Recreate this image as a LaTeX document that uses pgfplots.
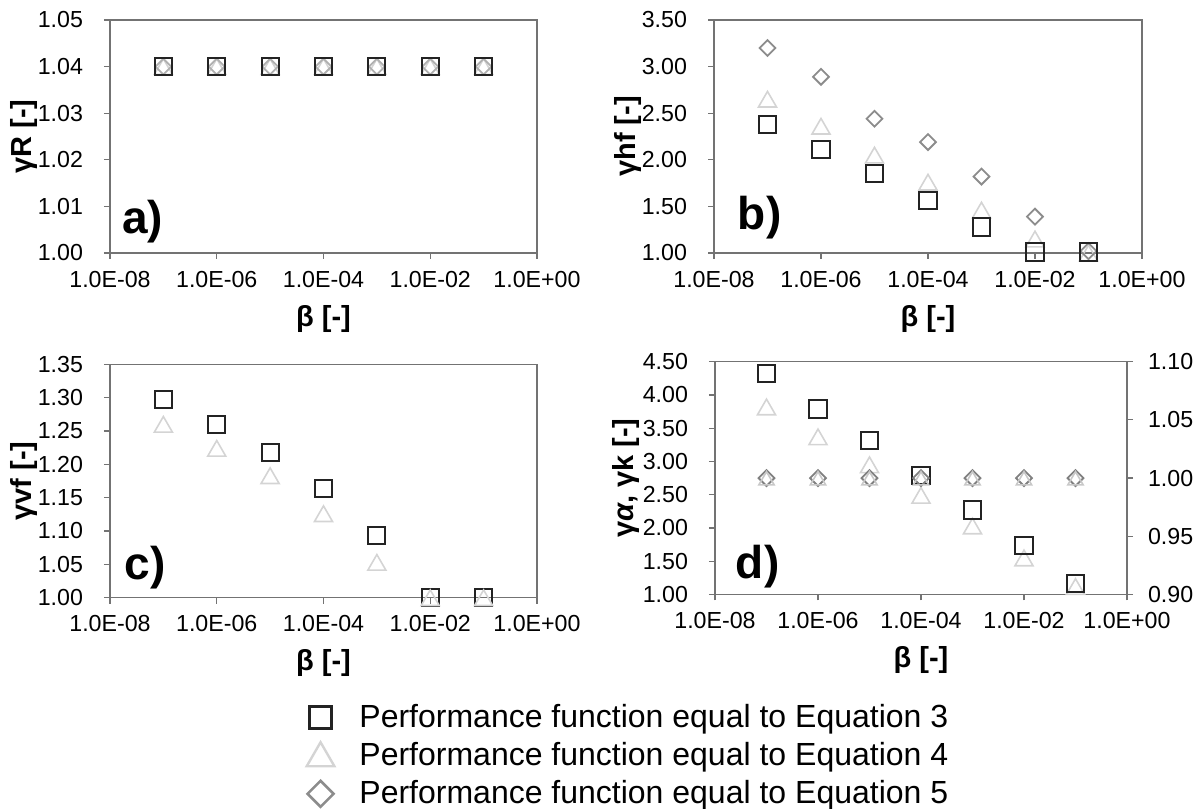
\documentclass[border=0pt]{standalone}
\usepackage{fontspec}
\setmainfont{Liberation Sans}
\usepackage{pgfplots}
\pgfplotsset{compat=1.18}

\definecolor{sqcol}{RGB}{35,35,35}
\definecolor{tricol}{RGB}{212,212,212}
\definecolor{diacol}{RGB}{140,140,140}
\definecolor{trifill}{RGB}{200,200,200}
\definecolor{framecol}{RGB}{115,115,115}

\pgfplotsset{
  myax/.style={
    scale only axis, width=213.5pt, height=116.5pt,
    xmin=1e-8, xmax=1,
    xtick={1e-8,1e-6,1e-4,1e-2,1},
    xticklabels={1.0E-08,1.0E-06,1.0E-04,1.0E-02,1.0E+00},
    minor xtick={},
    axis line style={framecol, line width=0.6pt},
    tick style={framecol, line width=0.6pt},
    tick align=outside, major tick length=3pt,
    xtick pos=bottom, ytick pos=left,
    tick label style={font=\fontsize{11.6}{13}\selectfont},
    xticklabel style={yshift=-2.5pt},
    yticklabel style={xshift=-7pt, /pgf/number format/fixed, /pgf/number format/fixed zerofill, /pgf/number format/precision=2},
    label style={font=\bfseries\fontsize{14.5}{16}\selectfont},
    xlabel style={yshift=-2pt},
    ylabel shift=-6.5pt,
    xlabel={β [-]},
    clip=false,
  },
  mysq/.style={only marks, mark=square, mark size=4.3pt, color=sqcol, line width=1pt},
  mytri/.style={only marks, mark=triangle, mark size=5.2pt, color=tricol, line width=0.8pt, mark options={yshift=-1.3pt}},
  mydia/.style={only marks, mark=square, mark size=2.8pt, color=diacol, line width=0.9pt, mark options={rotate=45}},
}
\pgfplotsset{/pgf/number format/assume math mode=true}
\tikzset{plabel/.style={anchor=west, inner sep=0pt, font=\bfseries\fontsize{23}{25}\selectfont}}

\begin{document}
\begin{tikzpicture}
\useasboundingbox (0,0) rectangle (600.5pt,404.5pt);

% a) gamma_R
\begin{semilogxaxis}[myax, at={(55pt,278pt)}, anchor=south west,
  ymin=1.00, ymax=1.05, ytick={1.00,1.01,1.02,1.03,1.04,1.05},
  ylabel={γR [-]}]
\addplot[mytri] coordinates {(1e-7,1.04) (1e-6,1.04) (1e-5,1.04) (1e-4,1.04) (1e-3,1.04) (1e-2,1.04) (1e-1,1.04)};
\addplot[mydia, color=diacol!70] coordinates {(1e-7,1.04) (1e-6,1.04) (1e-5,1.04) (1e-4,1.04) (1e-3,1.04) (1e-2,1.04) (1e-1,1.04)};
\addplot[mysq] coordinates {(1e-7,1.04) (1e-6,1.04) (1e-5,1.04) (1e-4,1.04) (1e-3,1.04) (1e-2,1.04) (1e-1,1.04)};
\node[plabel] at (rel axis cs:0.028,0.133) {a)};
\end{semilogxaxis}

% b) gamma_hf
\begin{semilogxaxis}[myax, at={(357pt,278pt)}, anchor=south west, width=214pt,
  ymin=1.00, ymax=3.50, ytick={1.00,1.50,2.00,2.50,3.00,3.50},
  ylabel={γhf [-]}]
\addplot[mytri] coordinates {(1e-7,2.65) (1e-6,2.36) (1e-5,2.05) (1e-4,1.76) (1e-3,1.46) (1e-2,1.15) (1e-1,1.00)};
\addplot[mydia] coordinates {(1e-7,3.20) (1e-6,2.89) (1e-5,2.44) (1e-4,2.19) (1e-3,1.82) (1e-2,1.39) (1e-1,1.02)};
\addplot[mysq] coordinates {(1e-7,2.38) (1e-6,2.11) (1e-5,1.85) (1e-4,1.56) (1e-3,1.28) (1e-2,1.01) (1e-1,1.01)};
\node[plabel] at (rel axis cs:0.055,0.15) {b)};
\end{semilogxaxis}

% c) gamma_vf
\begin{semilogxaxis}[myax, at={(55pt,105.65pt)}, anchor=south west, height=116.7pt,
  ymin=1.00, ymax=1.35, ytick={1.00,1.05,1.10,1.15,1.20,1.25,1.30,1.35},
  ylabel={γvf [-]},
  legend style={at={(axis description cs:0.4457,-0.421)}, anchor=north west,
    draw=none, fill=none, font=\fontsize{16}{19}\selectfont, row sep=2pt},
  legend cell align=left]
\addplot[mysq, forget plot] coordinates {(1e-7,1.297) (1e-6,1.260) (1e-5,1.218) (1e-4,1.164) (1e-3,1.093) (1e-2,1.000) (1e-1,1.000)};
\addplot[mytri, forget plot] coordinates {(1e-7,1.260) (1e-6,1.224) (1e-5,1.183) (1e-4,1.126) (1e-3,1.053) (1e-2,1.000) (1e-1,1.000)};
\addlegendimage{mysq, mark size=5.6pt, line width=1.5pt}
\addlegendentry{\hspace*{10.5pt}Performance function equal to Equation 3}
\addlegendimage{mytri, mark size=8pt, line width=1.2pt}
\addlegendentry{\hspace*{10.5pt}Performance function equal to Equation 4}
\addlegendimage{mydia, mark size=4.6pt, line width=1.3pt}
\addlegendentry{\hspace*{10.5pt}Performance function equal to Equation 5}
\node[plabel] at (rel axis cs:0.033,0.127) {c)};
\end{semilogxaxis}

% d) gamma_alpha (left), gamma_k (right)
\begin{semilogxaxis}[myax, at={(357.5pt,107.25pt)}, anchor=south west, width=206pt, height=116.4pt,
  ylabel shift=-5pt,
  ymin=1.00, ymax=4.50, ytick={1.00,1.50,2.00,2.50,3.00,3.50,4.00,4.50},
  ylabel={γ\textit{α}, γk [-]}]
\addplot[mytri] coordinates {(1e-7,3.82) (1e-6,3.37) (1e-5,2.95) (1e-4,2.49) (1e-3,2.03) (1e-2,1.55) (1e-1,1.12)};
\addplot[mysq] coordinates {(1e-7,4.32) (1e-6,3.79) (1e-5,3.31) (1e-4,2.79) (1e-3,2.27) (1e-2,1.74) (1e-1,1.17)};
\node[plabel] at (rel axis cs:0.05,0.118) {d)};
\end{semilogxaxis}
\begin{semilogxaxis}[myax, at={(357.5pt,107.25pt)}, anchor=south west, width=206pt, height=116.4pt,
  axis x line=none, axis y line*=right, ytick pos=right, xlabel={},
  yticklabel style={xshift=11pt},
  ymin=0.90, ymax=1.10, ytick={0.90,0.95,1.00,1.05,1.10}]
\addplot[mydia, color=gray] coordinates {(1e-7,1.00) (1e-6,1.00) (1e-5,1.00) (1e-4,1.00) (1e-3,1.00) (1e-2,1.00) (1e-1,1.00)};
\addplot[mytri, mark size=4.4pt, color=trifill, mark options={fill=trifill}] coordinates {(1e-7,0.998) (1e-6,0.998) (1e-5,0.998) (1e-4,0.998) (1e-3,0.998) (1e-2,0.998) (1e-1,0.998)};
\end{semilogxaxis}
\end{tikzpicture}
\end{document}
